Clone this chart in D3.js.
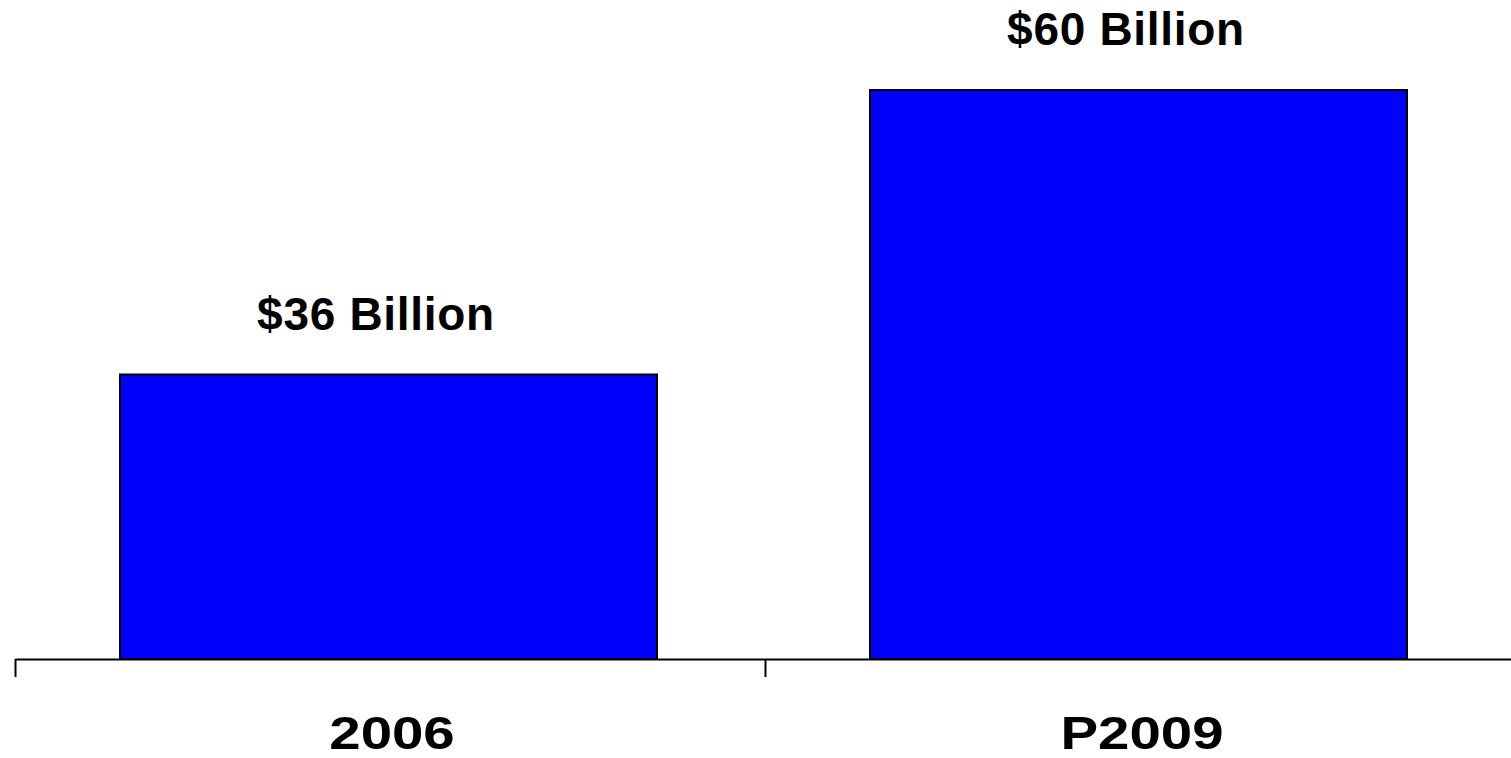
<!DOCTYPE html>
<html>
<head>
<meta charset="utf-8">
<script src="https://cdn.jsdelivr.net/npm/d3@7"></script>
<style>
  html, body { margin: 0; padding: 0; background: #fff; }
  svg { display: block; }
</style>
</head>
<body>
<svg id="chart"></svg>
<script>
const WIDTH = 1511;
const HEIGHT = 758;

const categories = ["2006", "P2009"];
const values = [36, 60];
const valueLabels = ["$36 Billion", "$60 Billion"];

const data = categories.map((c, i) => ({ label: c, value: values[i], text: valueLabels[i] }));

const svg = d3.select("#chart")
  .attr("width", WIDTH)
  .attr("height", HEIGHT);

const BASE = 659;

const xScale = d3.scaleBand()
  .domain(categories)
  .range([15, 1515])
  .padding(0);

const barPad = 0.14;
const barW = xScale.bandwidth() * 0.716;

// axis doesn't start at zero in the original
const yScale = d3.scaleLinear()
  .domain([12, 60])
  .range([BASE, 90]);

svg.selectAll(".bar")
  .data(data)
  .enter()
  .append("rect")
  .attr("class", "bar")
  .attr("x", d => xScale(d.label) + xScale.bandwidth() * barPad)
  .attr("y", d => yScale(d.value))
  .attr("width", barW)
  .attr("height", d => BASE - yScale(d.value))
  .attr("fill", "#0000ff")
  .attr("stroke", "#000")
  .attr("stroke-width", 2);

// axis with ticks at band edges
const edgeScale = d3.scaleLinear().domain([0, categories.length]).range(xScale.range());
svg.append("g")
  .attr("transform", `translate(0, ${BASE})`)
  .call(d3.axisBottom(edgeScale).tickValues([0, 1, 2]).tickSize(18).tickFormat("").tickSizeOuter(0))
  .call(g => g.selectAll("path, line").attr("stroke", "#000").attr("stroke-width", 2));

// category labels look horizontally stretched in the original
svg.selectAll(".cat")
  .data(data)
  .enter()
  .append("text")
  .attr("transform", d => `translate(${xScale(d.label) + xScale.bandwidth() / 2 + 2}, 749) scale(1.2, 1)`)
  .attr("text-anchor", "middle")
  .style("font-family", "Arial, 'Liberation Sans', sans-serif")
  .style("font-weight", "bold")
  .style("font-size", "47px")
  .text(d => d.label);

svg.selectAll(".val")
  .data(data)
  .enter()
  .append("text")
  .attr("x", d => xScale(d.label) + xScale.bandwidth() / 2 - 14)
  .attr("y", d => yScale(d.value) - 45)
  .attr("text-anchor", "middle")
  .style("font-family", "Arial, 'Liberation Sans', sans-serif")
  .style("font-weight", "bold")
  .style("font-size", "46px")
  .style("letter-spacing", "0.7px")
  .text(d => d.text);
</script>
</body>
</html>
